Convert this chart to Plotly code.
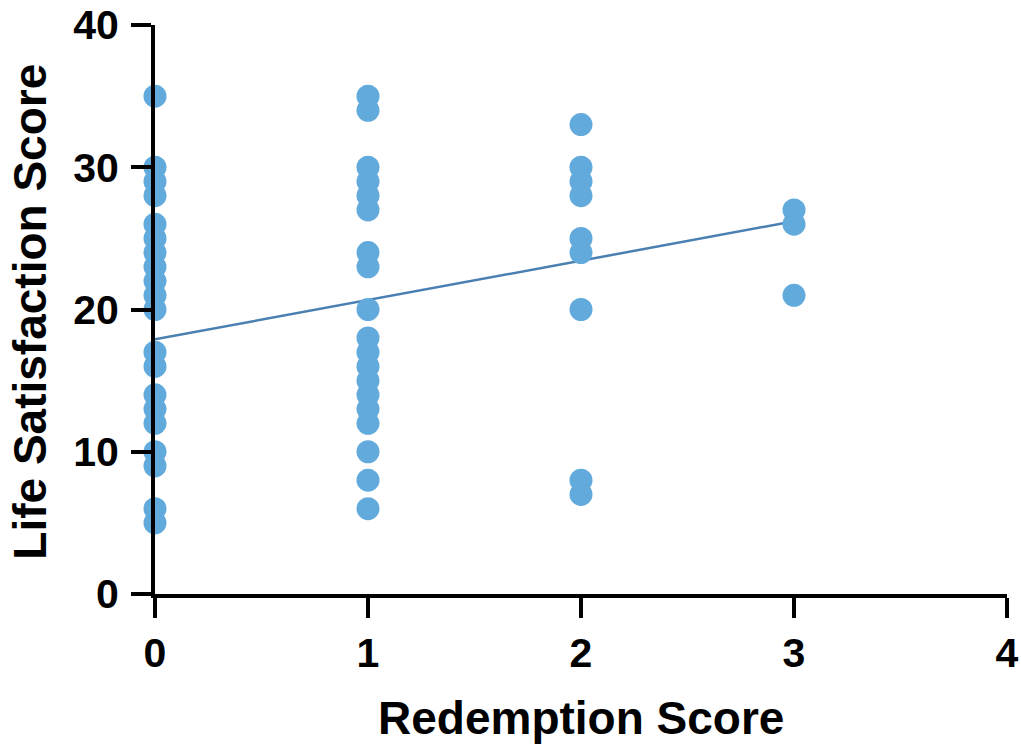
import plotly.graph_objects as go

# Redemption score groups and life satisfaction values
x0_vals = [35, 30, 29, 28, 26, 25, 24, 23, 22, 21, 20, 17, 16, 14, 13, 12, 10, 9, 6, 5]
x1_vals = [35, 34, 30, 29, 28, 27, 24, 23, 20, 18, 17, 16, 15, 14, 13, 12, 10, 8, 6]
x2_vals = [33, 30, 29, 28, 25, 24, 20, 8, 7]
x3_vals = [27, 26, 21]
groups = [0, 1, 2, 3]
x_ticks = [0, 1, 2, 3, 4]
y_ticks = [0, 10, 20, 30, 40]

# Regression line
line_x = [0, 3]
line_y = [17.9, 26.2]

xs, ys = [], []
for g, vals in zip(groups, [x0_vals, x1_vals, x2_vals, x3_vals]):
    xs += [g] * len(vals)
    ys += vals

fig = go.Figure()
fig.add_trace(go.Scatter(x=line_x, y=line_y, mode="lines",
                         line=dict(color="#4a7fb2", width=2.5),
                         cliponaxis=False, showlegend=False, hoverinfo="skip"))
fig.add_trace(go.Scatter(x=xs, y=ys, mode="markers",
                         marker=dict(color="#62aadc", size=23, line=dict(width=0)),
                         cliponaxis=False, showlegend=False))

font_fam = "Liberation Sans, Arial, sans-serif"
axis_common = dict(showline=True, linewidth=4, linecolor="black",
                   ticks="outside", ticklen=20, tickwidth=4, tickcolor="black",
                   showgrid=False, zeroline=False, automargin=False,
                   tickfont=dict(family=font_fam, size=41, color="black", weight="bold"))

fig.update_xaxes(range=[0, 4], tickvals=x_ticks, ticklabelstandoff=0, **axis_common)
fig.update_yaxes(range=[0, 40], tickvals=y_ticks, ticklabelstandoff=4, **axis_common)

title_font = dict(family=font_fam, size=46, color="black", weight="bold")
fig.add_annotation(text="Redemption Score", xref="paper", yref="paper",
                   x=0.5, y=-0.218, showarrow=False, font=title_font,
                   xanchor="center", yanchor="middle")
fig.add_annotation(text="Life Satisfaction Score", xref="paper", yref="paper",
                   x=-0.1462, y=0.497, showarrow=False, font=title_font,
                   textangle=-90, xanchor="center", yanchor="middle")

fig.update_layout(width=1021, height=744, margin=dict(l=155, r=14, t=25, b=150),
                  plot_bgcolor="white", paper_bgcolor="white")

fig.write_html("out.html")
